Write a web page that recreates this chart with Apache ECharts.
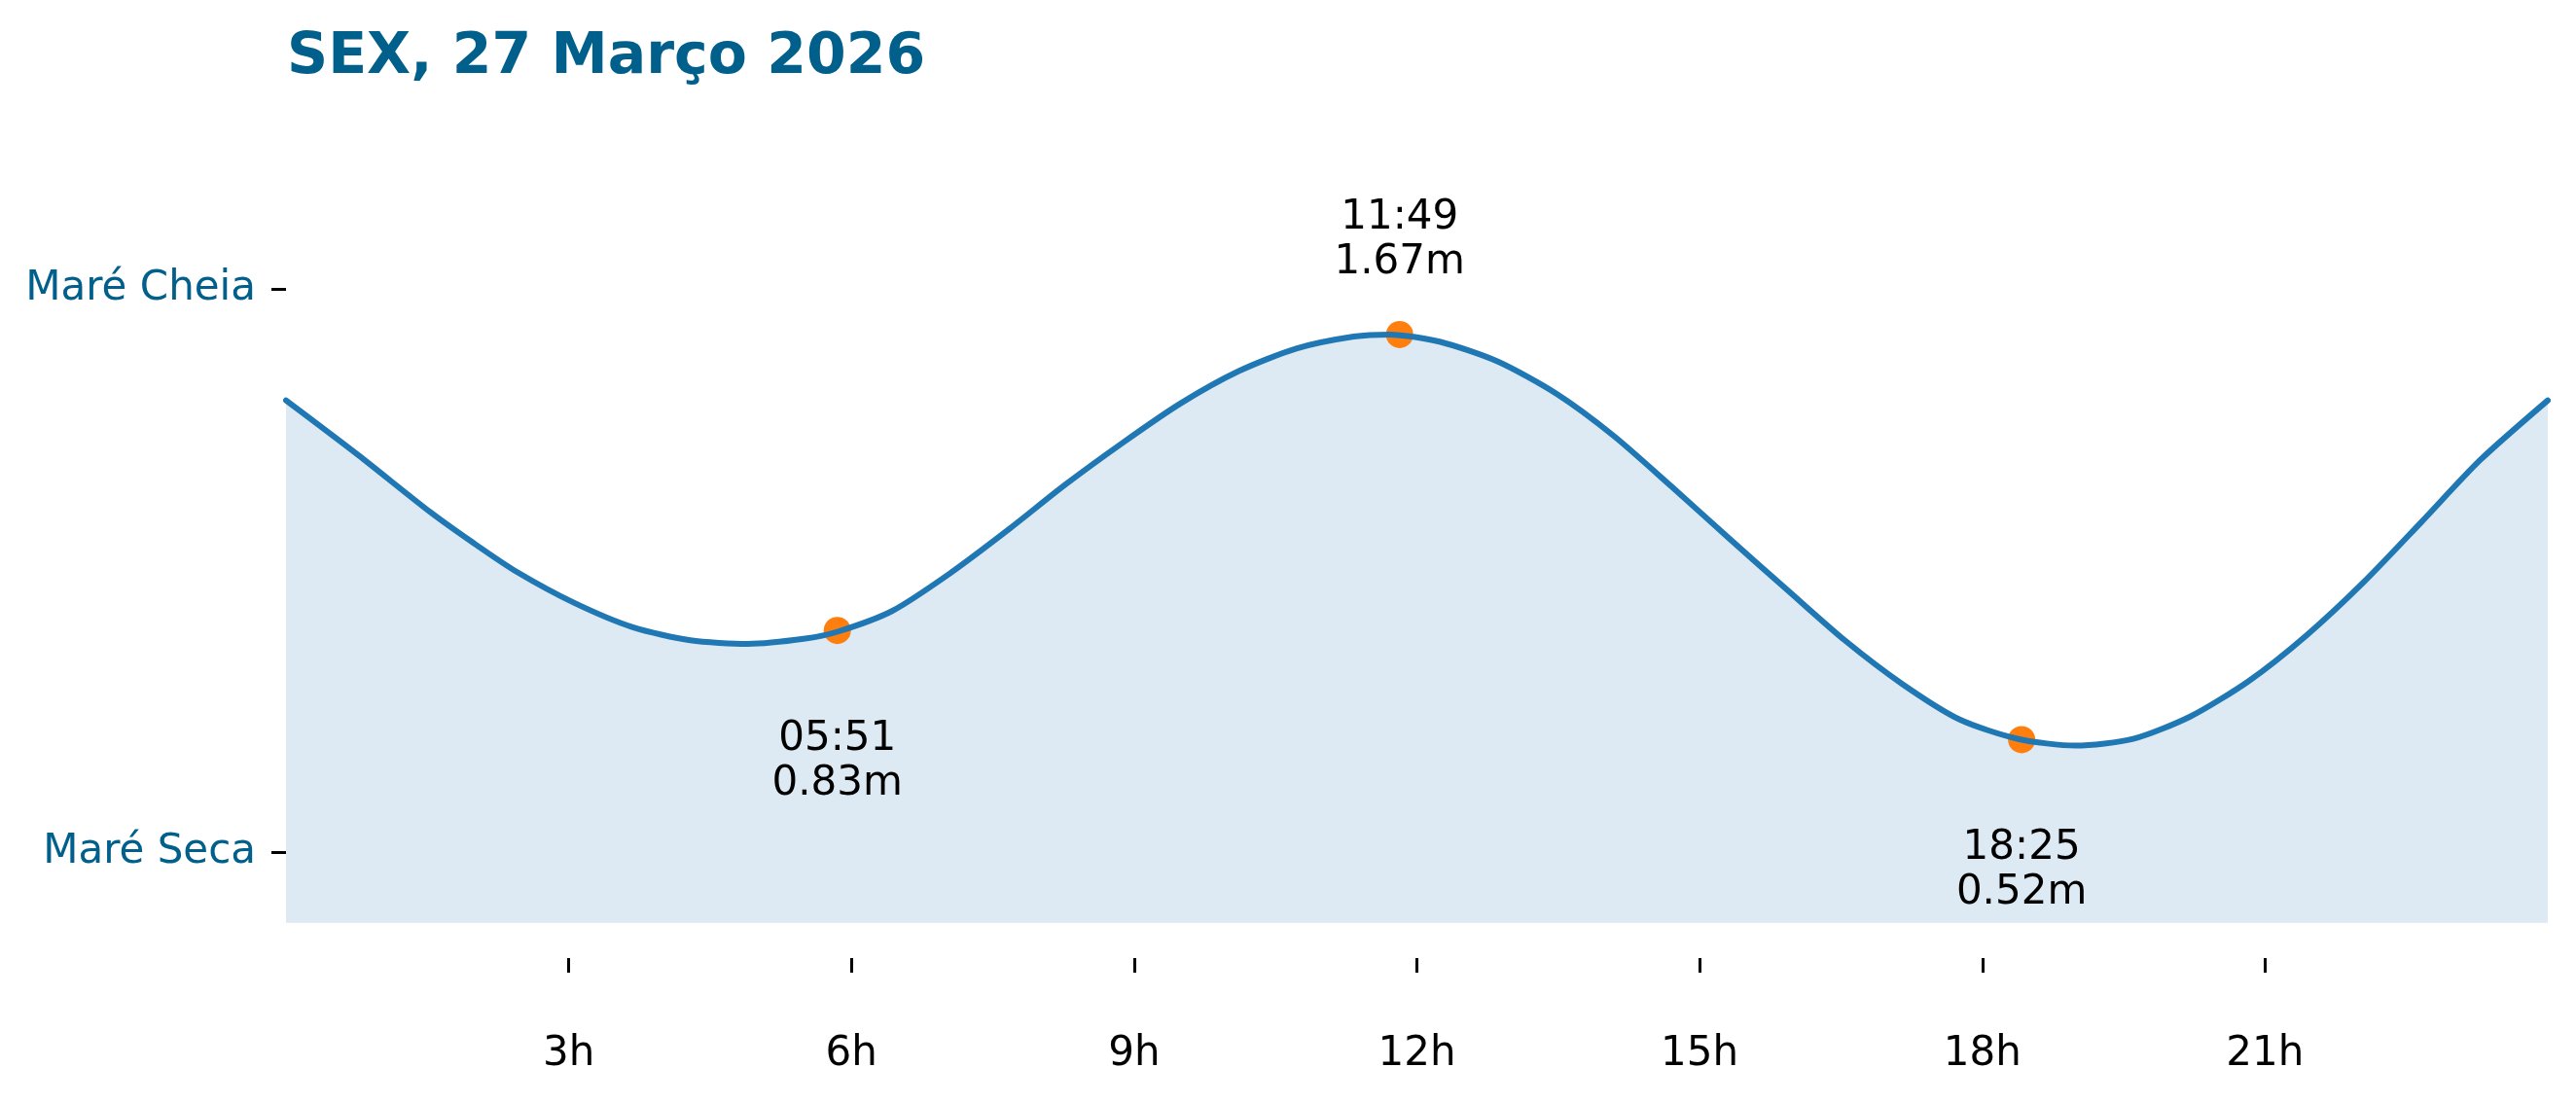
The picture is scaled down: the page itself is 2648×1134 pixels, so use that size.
<!DOCTYPE html>
<html>
<head>
<meta charset="utf-8">
<script src="https://cdn.jsdelivr.net/npm/echarts@6/dist/echarts.min.js"></script>
<style>
html,body{margin:0;padding:0;background:#fff;}
#chart{width:2648px;height:1134px;}
</style>
</head>
<body>
<div id="chart"></div>
<script>
const titleText = 'SEX, 27 Março 2026';
const curveHours = [0, 0.77, 1.53, 1.99, 2.45, 3.06, 3.68, 4.29, 4.90, 5.51, 5.86, 6.43, 7.04, 7.66, 8.27, 8.88, 9.49, 10.11, 10.72, 11.33, 11.71, 12.25, 12.86, 13.48, 14.09, 14.70, 15.31, 15.93, 16.54, 17.15, 17.76, 18.38, 18.99, 19.60, 20.21, 20.83, 21.44, 22.05, 22.66, 23.28, 24];
const curveHeights = [1.483, 1.327, 1.166, 1.078, 0.996, 0.908, 0.839, 0.802, 0.792, 0.807, 0.827, 0.885, 0.991, 1.115, 1.244, 1.363, 1.474, 1.566, 1.630, 1.664, 1.670, 1.649, 1.593, 1.502, 1.382, 1.239, 1.092, 0.945, 0.802, 0.678, 0.577, 0.522, 0.503, 0.522, 0.586, 0.687, 0.816, 0.968, 1.138, 1.313, 1.483];
const extremeTimes = ['05:51', '11:49', '18:25'];
const extremeHours = [5 + 51/60, 11 + 49/60, 18 + 25/60];
const extremeHeights = [0.83, 1.67, 0.52];
const extremeTypes = ['low', 'high', 'low'];
const xTickValues = [3, 6, 9, 12, 15, 18, 21];
const yTickValues = [0.2, 1.8];
const yTickLabels = ['Maré Seca', 'Maré Cheia'];

const FONT = 'DejaVu Sans';
const BLUE = '#1f77b4';
const ORANGE = '#ff7f0e';
const LABEL_BLUE = '#005f8b';

const curveData = curveHours.map((h, i) => [h, curveHeights[i]]);
const extremeData = extremeHours.map((h, i) => ({
  value: [h, extremeHeights[i]],
  label: extremeTypes[i] === 'high'
    ? { position: 'top', distance: 37 }
    : { position: 'bottom', distance: 75 }
}));

const chart = echarts.init(document.getElementById('chart'), null, {renderer: 'canvas'});
chart.setOption({
  animation: false,
  backgroundColor: '#ffffff',
  title: {
    text: titleText,
    left: 295,
    top: 30,
    padding: 0,
    textStyle: { fontFamily: FONT, fontSize: 58.5, fontWeight: 'bold', color: LABEL_BLUE }
  },
  grid: { left: 294, right: 29, top: 79.5, bottom: 149, containLabel: false },
  xAxis: {
    type: 'value',
    min: 0, max: 24,
    axisLine: { show: false, onZero: false },
    splitLine: { show: false },
    axisTick: { show: true, length: 15, customValues: xTickValues, lineStyle: { color: '#000', width: 3 } },
    axisLabel: { customValues: xTickValues, margin: 78, fontFamily: FONT, fontSize: 42, color: '#000',
      formatter: v => v + 'h' }
  },
  yAxis: {
    type: 'value',
    min: -0.1, max: 2.4,
    axisLine: { show: false, onZero: false },
    splitLine: { show: false },
    axisTick: { show: true, length: 15, customValues: yTickValues, lineStyle: { color: '#000', width: 3 } },
    axisLabel: { customValues: yTickValues, margin: 31, fontFamily: FONT, fontSize: 42, color: LABEL_BLUE,
      formatter: v => { const i = yTickValues.findIndex(t => Math.abs(t - v) < 1e-6); return i >= 0 ? yTickLabels[i] : ''; } }
  },
  series: [
    {
      type: 'line', data: curveData, smooth: 0.25, showSymbol: false, z: 1,
      lineStyle: { width: 0 },
      areaStyle: { color: '#dde9f3', opacity: 1, origin: 'auto' },
      silent: true
    },
    {
      type: 'scatter', data: extremeData, symbolSize: 28, z: 2,
      itemStyle: { color: ORANGE, opacity: 1 },
      label: {
        show: true, fontFamily: FONT, fontSize: 42, lineHeight: 46, color: '#000', align: 'center',
        formatter: p => extremeTimes[p.dataIndex] + '\n' + extremeHeights[p.dataIndex].toFixed(2) + 'm'
      }
    },
    {
      type: 'line', data: curveData, smooth: 0.25, showSymbol: false, z: 3,
      lineStyle: { width: 6, color: BLUE, join: 'round', cap: 'round' },
      silent: true
    }
  ]
});
</script>
</body>
</html>
